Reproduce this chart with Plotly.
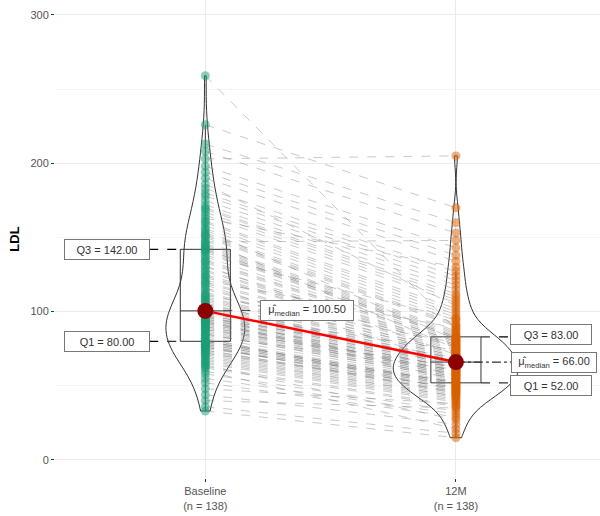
import numpy as np
import plotly.graph_objects as go

# Paired LDL measurements (same patient at the same index)
groups = ["Baseline", "12M"]
baseline = [
    33, 36, 40, 44, 48, 52, 55, 58, 60, 62,
    63, 64, 65, 66, 67, 68, 69, 70, 71, 72,
    72, 73, 74, 74, 75, 76, 76, 77, 77, 78,
    78, 79, 79, 80, 80,
    80, 81, 82, 83, 84, 85, 85, 86, 87, 88,
    88, 89, 90, 90, 91, 92, 92, 93, 93, 94,
    94, 95, 95, 96, 96, 97, 97, 98, 98, 99,
    99, 100, 100, 100,
    101, 102, 103, 104, 105, 106, 107, 108, 109, 110,
    111, 112, 113, 115, 116, 118, 119, 120, 121, 123,
    124, 125, 127, 128, 130, 131, 133, 134, 135, 137,
    138, 140, 141, 142, 142,
    143, 144, 145, 146, 147, 148, 150, 151, 152, 153,
    155, 156, 158, 160, 161, 163, 165, 167, 169, 170,
    172, 175, 178, 180, 183, 186, 190, 194, 198, 203,
    208, 213, 226, 259,
]
month12 = [
    15, 18, 35, 24, 38, 29, 31, 33, 21, 36,
    37, 27, 39, 40, 41, 42, 43, 43, 44, 49,
    45, 46, 46, 47, 53, 48, 48, 45, 49, 50,
    50, 51, 51, 52, 52,
    52, 53, 47, 54, 61, 55, 55, 56, 56, 63,
    57, 57, 58, 58, 59, 59, 60, 60, 60, 54,
    61, 62, 62, 62, 69, 63, 57, 64, 64, 65,
    74, 65, 66, 66, 66,
    67, 67, 68, 68, 63, 69, 70, 70, 71, 79,
    72, 72, 73, 73, 65, 74, 75, 89, 76, 76,
    77, 77, 78, 78, 71, 79, 80, 80, 81, 95,
    82, 82, 83, 83,
    84, 85, 86, 87, 148, 75, 90, 91, 92, 94,
    81, 96, 98, 100, 102, 130, 106, 108, 110, 112,
    115, 118, 121, 124, 127, 104, 134, 138, 143, 205,
    153, 160, 170, 88,
]
tick_labels = ["Baseline<br>(n = 138)", "12M<br>(n = 138)"]

series = [np.array(baseline, float), np.array(month12, float)]
colors = ["#1b9e77", "#d95f02"]
positions = [1, 2]


def nrd0(v):
    iqr = np.subtract(*np.percentile(v, [75, 25]))
    return 0.9 * min(v.std(ddof=1), iqr / 1.34) * len(v) ** -0.2


def kde_peak(v, bw):
    grid = np.linspace(v.min(), v.max(), 512)
    dens = np.exp(-0.5 * ((grid[:, None] - v[None, :]) / bw) ** 2).sum(axis=1)
    return dens.max() / (len(v) * bw * np.sqrt(2 * np.pi))


# violins share equal area: the widest one gets the full width
bws = [nrd0(v) for v in series]
peaks = [kde_peak(v, bw) for v, bw in zip(series, bws)]
violin_widths = [0.5 * p / max(peaks) for p in peaks]

fig = go.Figure()
stats = []
for pos, v, bw, vw in zip(positions, series, bws, violin_widths):
    q1, med, q3 = np.percentile(v, [25, 50, 75])
    iqr = q3 - q1
    lo = v[v >= q1 - 1.5 * iqr].min()
    hi = v[v <= q3 + 1.5 * iqr].max()
    stats.append((q1, med, q3))
    fig.add_trace(go.Violin(
        x=[pos] * len(v), y=v, width=vw, scalemode="width",
        spanmode="hard", bandwidth=bw, points=False,
        line=dict(color="#333333", width=1), fillcolor="rgba(255,255,255,0.2)",
        box_visible=False, meanline_visible=False, hoverinfo="skip",
    ))
    fig.add_trace(go.Box(
        x=[pos], q1=[q1], median=[med], q3=[q3], lowerfence=[lo], upperfence=[hi],
        width=0.2, whiskerwidth=0, fillcolor="rgba(0,0,0,0)",
        line=dict(color="#333333", width=1), boxpoints=False, hoverinfo="skip",
    ))

# dashed paths joining each patient's two measurements
px, py = [], []
for b, m in zip(baseline, month12):
    px += [1, 2, None]
    py += [b, m, None]
fig.add_trace(go.Scatter(
    x=px, y=py, mode="lines",
    line=dict(color="rgba(127,127,127,0.42)", width=1, dash="dash"),
    hoverinfo="skip",
))

for pos, v, c in zip(positions, series, colors):
    fig.add_trace(go.Scatter(
        x=[pos] * len(v), y=v, mode="markers",
        marker=dict(color=c, size=9, opacity=0.5, line=dict(width=0)),
        hoverinfo="skip",
    ))

medians = [s[1] for s in stats]
fig.add_trace(go.Scatter(x=positions, y=medians, mode="lines",
                         line=dict(color="red", width=2.5), hoverinfo="skip"))
fig.add_trace(go.Scatter(x=positions, y=medians, mode="markers",
                         marker=dict(color="#8b0000", size=16), hoverinfo="skip"))

# quartile / median labels with leader lines
label_font = dict(family="Liberation Sans, Arial", size=11, color="#333333")
box_style = dict(bgcolor="white", bordercolor="#777777", borderwidth=1,
                 borderpad=2, showarrow=False, font=label_font, height=15)
annotations = []
shapes = []


def fmt(v):
    return f"{v:.2f}"


# Baseline (labels on the left)
q1, med, q3 = stats[0]
for val, txt in [(q3, "Q3 = " + fmt(q3)), (q1, "Q1 = " + fmt(q1))]:
    annotations.append(dict(x=0.608, y=val, text=txt, width=80, **box_style))
    shapes.append(dict(type="line", x0=0.776, x1=0.9, y0=val, y1=val, layer="below",
                       line=dict(color="black", width=1.2, dash="dash")))
annotations.append(dict(x=1.405, y=med, text="μ̂<sub>median</sub> = " + fmt(med),
                        width=88, **box_style))
shapes.append(dict(type="line", x0=1.0, x1=1.215, y0=med, y1=med, layer="below",
                   line=dict(color="black", width=1.2, dash="dash")))

# 12M (labels on the right)
q1, med, q3 = stats[1]
for val, txt, shift in [(q3, "Q3 = " + fmt(q3), 2), (q1, "Q1 = " + fmt(q1), -3)]:
    annotations.append(dict(x=2.38, y=val, yshift=shift, text=txt, width=76, **box_style))
    shapes.append(dict(type="line", x0=2.1, x1=2.215, y0=val, y1=val, layer="below",
                       line=dict(color="black", width=1.2, dash="dash")))
annotations.append(dict(x=2.39, y=med, text="μ̂<sub>median</sub> = " + fmt(med),
                        width=80, **box_style))
shapes.append(dict(type="line", x0=2.0, x1=2.22, y0=med, y1=med, layer="below",
                   line=dict(color="black", width=1.2, dash="dashdot")))

fig.update_layout(
    width=600, height=516,
    margin=dict(l=55, r=0, t=0, b=38),
    plot_bgcolor="white", paper_bgcolor="white",
    showlegend=False, violinmode="overlay", boxmode="overlay",
    font=dict(family="Liberation Sans, Arial", size=11, color="#4d4d4d"),
    annotations=annotations, shapes=shapes,
    xaxis=dict(
        range=[0.4, 2.575], tickvals=positions, ticktext=tick_labels,
        showgrid=True, gridcolor="#ebebeb", gridwidth=1, zeroline=False,
        ticks="outside", ticklen=3, tickcolor="#333333", showline=False,
        tickfont=dict(size=11, color="#555555"),
    ),
    yaxis=dict(
        range=[-12.16, 310.1], tickvals=[0, 100, 200, 300],
        showgrid=True, gridcolor="#ebebeb", gridwidth=1, zeroline=False,
        minor=dict(dtick=50, tick0=0, showgrid=True, gridcolor="#f5f5f5", gridwidth=1),
        ticks="outside", ticklen=3, tickcolor="#333333", showline=False,
        tickfont=dict(size=11, color="#555555"),
        title=dict(text="<b>LDL</b>", font=dict(size=13, color="black"), standoff=7),
    ),
)

fig.write_html("out.html")
